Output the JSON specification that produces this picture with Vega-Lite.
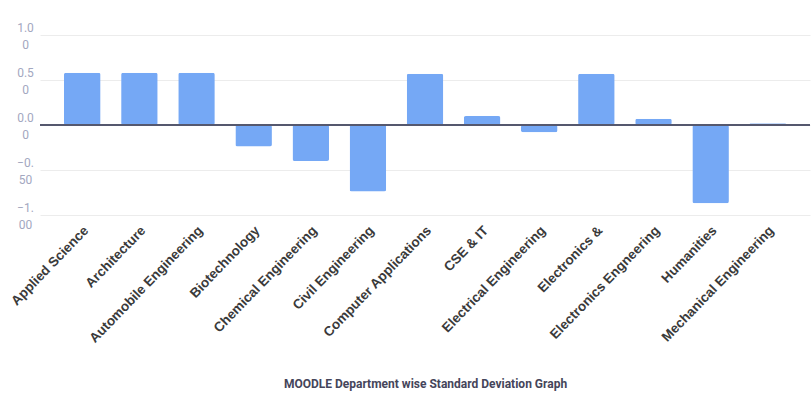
{
  "$schema": "https://vega.github.io/schema/vega-lite/v6.json",
  "autosize": "none",
  "width": 770,
  "height": 180,
  "padding": {"left": 40, "top": 35, "right": 2, "bottom": 197},
  "background": "white",
  "config": {"view": {"stroke": null}, "font": "Roboto"},
  "data": {"values": [
    {"dept": "Applied Science", "sd": 0.58},
    {"dept": "Architecture", "sd": 0.58},
    {"dept": "Automobile Engineering", "sd": 0.58},
    {"dept": "Biotechnology", "sd": -0.24},
    {"dept": "Chemical Engineering", "sd": -0.40},
    {"dept": "Civil Engineering", "sd": -0.74},
    {"dept": "Computer Applications", "sd": 0.57},
    {"dept": "CSE & IT", "sd": 0.10},
    {"dept": "Electrical Engineering", "sd": -0.08},
    {"dept": "Electronics &", "sd": 0.57},
    {"dept": "Electronics Engneering", "sd": 0.07},
    {"dept": "Humanities", "sd": -0.87},
    {"dept": "Mechanical Engineering", "sd": 0.02}
  ]},
  "layer": [
    {
      "mark": {"type": "bar", "color": "#75a8f5", "cornerRadius": 2},
      "encoding": {
        "x": {
          "field": "dept", "type": "nominal", "sort": null,
          "scale": {"paddingInner": 0.36, "paddingOuter": 0.42},
          "axis": {
            "title": "MOODLE Department wise Standard Deviation Graph",
            "titleFontSize": 12, "titleFontWeight": "bold", "titleColor": "#45455a",
            "titleY": 168, "titleBaseline": "middle",
            "labelAngle": -46, "labelAlign": "right", "labelBaseline": "middle",
            "labelFont": "Liberation Sans",
            "labelFontSize": 13.5, "labelFontWeight": "bold", "labelColor": "#3a3a3a",
            "labelPadding": 13, "labelOffset": 4,
            "ticks": false, "domain": false, "labelOverlap": false, "labelLimit": 0
          }
        },
        "y": {
          "field": "sd", "type": "quantitative",
          "scale": {"domain": [-1, 1], "nice": false},
          "axis": {
            "title": null, "values": [-1, -0.5, 0, 0.5, 1],
            "labelExpr": "[slice(format(datum.value,'.2f'),0,3), slice(format(datum.value,'.2f'),3)]",
            "labelAlign": "center", "labelBaseline": "middle", "labelPadding": 15,
            "labelOffset": -8,
            "labelFontSize": 12, "labelColor": "#a3a7bf", "labelLineHeight": 17,
            "ticks": false, "domain": false,
            "gridColor": "#ececec", "gridWidth": 1
          }
        }
      }
    },
    {
      "mark": {"type": "rule", "color": "#55586e", "strokeWidth": 2},
      "encoding": {"y": {"datum": 0}}
    }
  ]
}
